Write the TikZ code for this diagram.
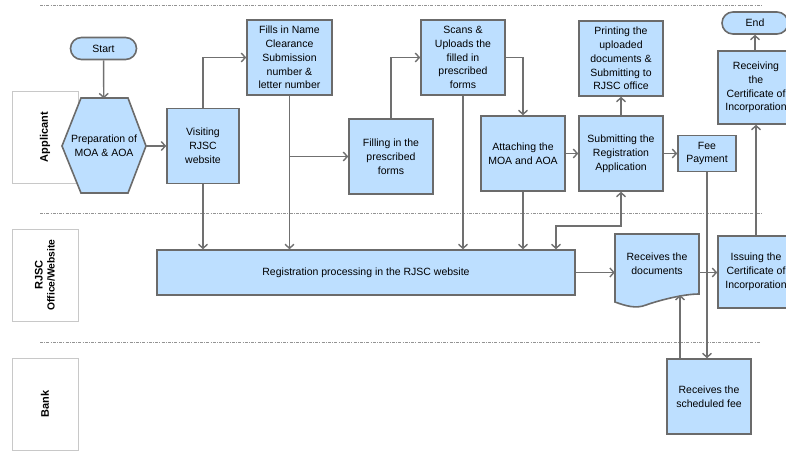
\documentclass[tikz,border=0pt]{standalone}
\usepackage{fontspec}
\setmainfont{Liberation Sans}
\usepackage{xcolor}
\usetikzlibrary{arrows.meta, positioning}

\definecolor{azul}{HTML}{BDDFFF}
\definecolor{borda}{HTML}{6B6B6B}
\definecolor{linha}{HTML}{707070}
\definecolor{raiacor}{HTML}{C8C8C8}

\begin{document}
\begin{tikzpicture}[
        x=1pt, y=-1pt,
        font=\fontsize{10.5}{13.8}\selectfont,
        processo/.style={rectangle, draw=borda, line width=1.6pt, fill=azul, align=center, inner sep=0pt, minimum width=84pt, minimum height=75pt},
        terminal/.style={processo, rounded corners=11pt, minimum width=66pt, minimum height=22pt},
        forma/.style={draw=borda, line width=1.6pt, fill=azul},
        texto/.style={inner sep=0pt, align=center},
        raia/.style={rectangle, draw=raiacor, line width=0.8pt, minimum width=92pt, minimum height=66pt, rotate=90, align=center, font=\fontsize{11}{12}\selectfont\bfseries},
        divisa/.style={draw=gray!85, line width=1pt, dash pattern=on 3pt off 1.2pt on 1pt off 1.2pt},
        seta/.style={draw=linha, line width=1.4pt, ->, >={Straight Barb[length=4pt, width=9pt]}}
    ]
        \useasboundingbox (0,0) rectangle (786,456);

        % Raias
        \draw[divisa] (40,5) -- (762,5);
        \draw[divisa] (40,213) -- (763,213);
        \draw[divisa] (40,342) -- (760,342);
        \node[raia] (applicant) at (45,137) {Applicant};
        \node[raia] (rjsc) at (45,275) {RJSC\\{\fontsize{10.3}{10.5}\selectfont Office/Website}};
        \node[raia] (bank) at (45,404) {Bank};

        % Formas especiais
        \path[forma] (62,146) -- (81,98) -- (128,98) -- (146,146) -- (128,193) -- (81,193) -- cycle;
        \path[forma] (615,234) -- (699,234) -- (699,294) .. controls (684,294) and (660,300) .. (646,305)
            .. controls (636,309) and (626,306) .. (615,302) -- cycle;

        % Nós do diagrama
        \node[terminal] (start) at (103.5,48.5) {Start};
        \node[texto, minimum width=84pt, minimum height=95pt] (prep) at (104,146) {Preparation of\\MOA \& AOA};
        \node[processo, minimum width=72pt] (visit) at (203,146) {Visiting\\RJSC\\website};
        \node[processo, minimum width=85pt] (fills) at (289.5,57.5) {Fills in Name\\Clearance\\Submission\\number \&\\letter number};
        \node[processo] (filling) at (391,156.5) {Filling in the\\prescribed\\forms};
        \node[processo] (scans) at (463,57.5) {Scans \&\\Uploads the\\filled in\\prescribed\\forms};
        \node[processo] (attach) at (523,153.5) {Attaching the\\MOA and AOA};
        \node[processo] (submit) at (621,153.5) {Submitting the\\Registration\\Application};
        \node[processo] (print) at (621,58.5) {Printing the\\uploaded\\documents \&\\Submitting to\\RJSC office};
        \node[processo, minimum width=58pt, minimum height=36pt] (fee) at (707,153.5) {Fee\\Payment};
        \node[processo, minimum width=76pt, minimum height=73pt] (recv) at (756,87.5) {Receiving\\the\\Certificate of\\Incorporation};
        \node[terminal] (endn) at (755,23) {End};
        \node[processo, minimum width=418pt, minimum height=45pt] (reg) at (366,272.5) {Registration processing in the RJSC website};
        \node[texto, minimum width=84pt, minimum height=60pt] (docs) at (657,264) {Receives the\\documents};
        \node[processo, minimum width=76pt, minimum height=72pt] (issue) at (756,272) {Issuing the\\Certificate of\\Incorporation};
        \node[processo] (sched) at (709,396.5) {Receives the\\scheduled fee};

        \coordinate (desvio) at (556,226);
        \coordinate (docsin) at (680,295);

        % Conexões
        \draw[seta] (start) -- (prep);
        \draw[seta] (prep) -- (visit);
        \draw[seta] (visit.north) |- (fills.west);
        \draw[seta] (visit.south) -- (visit.south |- reg.north);
        \draw[seta] (fills.south) -- (fills.south |- reg.north);
        \draw[seta] (fills.south |- filling.west) -- (filling.west);
        \draw[seta] (filling.north) |- (scans.west);
        \draw[seta] (scans.south) -- (scans.south |- reg.north);
        \draw[seta] (scans.east) -| (attach.north);
        \draw[seta] (attach.south) -- (attach.south |- reg.north);
        \draw[seta] (attach) -- (submit);
        \draw[seta] (submit) -- (print);
        \draw[seta, <->] (reg.north -| desvio) -- (desvio) -| (submit.south);
        \draw[seta] (submit) -- (fee);
        \draw[seta] (fee.south) -- (fee.south |- sched.north);
        \draw[seta] (reg.east) -- (reg.east -| docs.west);
        \draw[seta] (sched.north -| docsin) -- (docsin);
        \draw[seta] (reg.east -| docs.east) -- (reg.east -| issue.west);
        \draw[seta] (issue) -- (recv);
        \draw[seta] (recv.north -| endn) -- (endn.south);
    \end{tikzpicture}
\end{document}
